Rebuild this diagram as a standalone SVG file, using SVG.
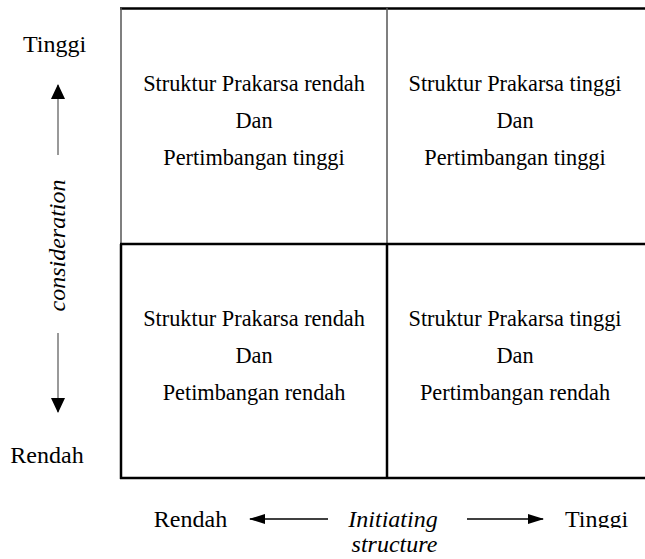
<svg xmlns="http://www.w3.org/2000/svg" width="645" height="559" viewBox="0 0 645 559">
<style>
text{font-family:"Liberation Serif","Times New Roman",serif;fill:#000}
.cell{font-size:22.3px;text-anchor:middle}
.ax{font-size:24px}
.it{font-style:italic}
.blk{stroke:#000;stroke-width:2.5;fill:none}
.gry{stroke:#555;stroke-width:1.5;fill:none}
.arr{stroke:#000;stroke-width:1.5;fill:none}
.varr{stroke:#777;stroke-width:1.5;fill:none}
</style>
<defs>
<marker id="ahv" viewBox="0 0 15 14" refX="14" refY="7" markerWidth="15" markerHeight="14" markerUnits="userSpaceOnUse" orient="auto">
<path d="M0,0 L15,7 L0,14 z" fill="#000"/>
</marker>
<marker id="ahh" viewBox="0 0 16 10" refX="15" refY="5" markerWidth="16" markerHeight="10" markerUnits="userSpaceOnUse" orient="auto">
<path d="M0,0 L16,5 L0,10 z" fill="#000"/>
</marker>
<clipPath id="clipT"><rect x="0" y="0" width="645" height="528"/></clipPath>
</defs>
<g id="grid">
<line class="blk" x1="120" y1="8.5" x2="645" y2="8.5"/>
<line class="gry" x1="121" y1="8" x2="121" y2="244"/>
<line class="blk" x1="121" y1="244" x2="121" y2="479"/>
<line class="gry" x1="387" y1="8" x2="387" y2="244"/>
<line class="blk" x1="387" y1="244" x2="387" y2="479"/>
<line class="blk" x1="120" y1="244" x2="645" y2="244"/>
<line class="blk" x1="120" y1="478" x2="645" y2="478"/>
</g>
<g id="q1">
<text class="cell" x="254" y="91">Struktur Prakarsa rendah</text>
<text class="cell" x="254" y="128">Dan</text>
<text class="cell" x="254" y="165">Pertimbangan tinggi</text>
</g>
<g id="q2">
<text class="cell" x="515" y="91">Struktur Prakarsa tinggi</text>
<text class="cell" x="515" y="128">Dan</text>
<text class="cell" x="515" y="165">Pertimbangan tinggi</text>
</g>
<g id="q3">
<text class="cell" x="254" y="326">Struktur Prakarsa rendah</text>
<text class="cell" x="254" y="363">Dan</text>
<text class="cell" x="254" y="400">Petimbangan rendah</text>
</g>
<g id="q4">
<text class="cell" x="515" y="326">Struktur Prakarsa tinggi</text>
<text class="cell" x="515" y="363">Dan</text>
<text class="cell" x="515" y="400">Pertimbangan rendah</text>
</g>
<g id="labels">
<text class="ax" x="54.5" y="52" text-anchor="middle">Tinggi</text>
<text class="ax" x="47" y="463" text-anchor="middle">Rendah</text>
<text class="ax it" transform="translate(65,245.5) rotate(-90)" text-anchor="middle">consideration</text>
<text class="ax" x="190.5" y="527" text-anchor="middle">Rendah</text>
<text class="ax it" x="393" y="527" text-anchor="middle">Initiating</text>
<text class="ax it" x="394.5" y="552" text-anchor="middle">structure</text>
<text class="ax" x="596.5" y="527" text-anchor="middle" clip-path="url(#clipT)">Tinggi</text>
</g>
<g id="connectors">
<line class="varr" x1="58" y1="155" x2="58" y2="85" marker-end="url(#ahv)"/>
<line class="varr" x1="58" y1="333" x2="58" y2="412" marker-end="url(#ahv)"/>
<line class="arr" x1="328" y1="519" x2="250" y2="519" marker-end="url(#ahh)"/>
<line class="arr" x1="467" y1="519" x2="543" y2="519" marker-end="url(#ahh)"/>
</g>
</svg>
